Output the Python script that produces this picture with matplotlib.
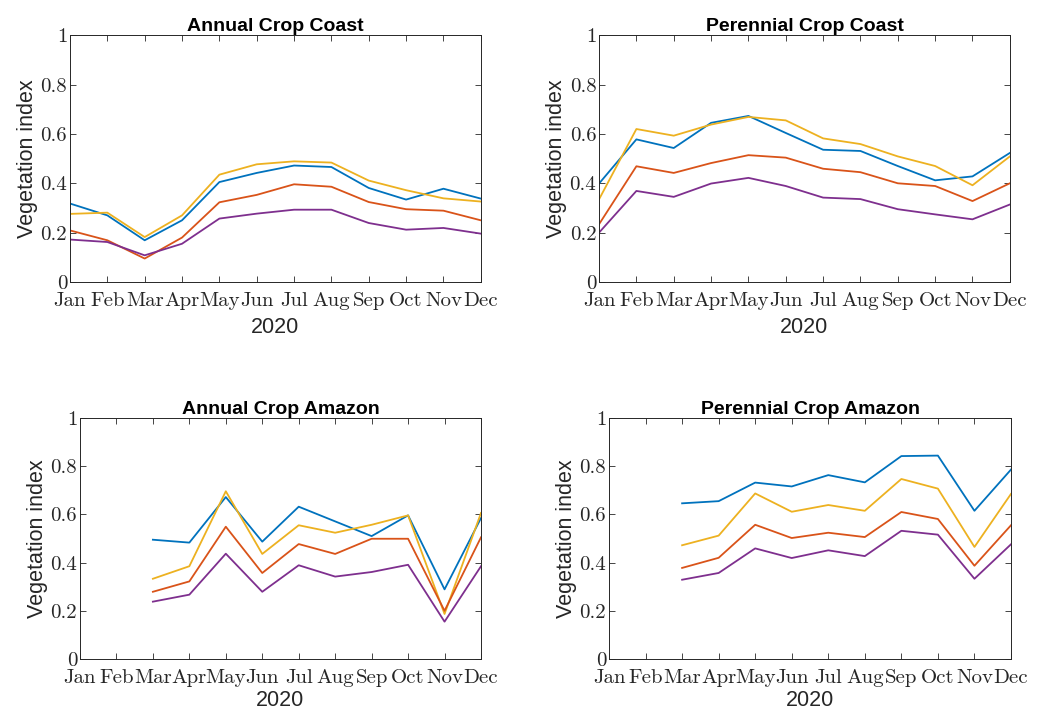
import numpy as np
import matplotlib
matplotlib.use('Agg')
import matplotlib.pyplot as plt

months = ['Jan', 'Feb', 'Mar', 'Apr', 'May', 'Jun', 'Jul', 'Aug', 'Sep', 'Oct', 'Nov', 'Dec']
nan = np.nan

# Annual Crop Coast
acc_blue = [0.318, 0.270, 0.169, 0.250, 0.405, 0.442, 0.472, 0.466, 0.381, 0.334, 0.378, 0.338]
acc_yellow = [0.276, 0.281, 0.182, 0.270, 0.435, 0.477, 0.489, 0.484, 0.411, 0.372, 0.339, 0.326]
acc_orange = [0.209, 0.169, 0.095, 0.180, 0.323, 0.353, 0.396, 0.386, 0.324, 0.295, 0.289, 0.250]
acc_purple = [0.172, 0.162, 0.108, 0.155, 0.257, 0.277, 0.293, 0.293, 0.239, 0.212, 0.219, 0.196]

# Perennial Crop Coast
pcc_blue = [0.399, 0.578, 0.543, 0.645, 0.673, 0.604, 0.536, 0.531, 0.470, 0.412, 0.428, 0.523]
pcc_yellow = [0.335, 0.620, 0.593, 0.638, 0.669, 0.655, 0.582, 0.559, 0.509, 0.470, 0.392, 0.509]
pcc_orange = [0.234, 0.469, 0.442, 0.482, 0.514, 0.504, 0.459, 0.445, 0.400, 0.389, 0.328, 0.400]
pcc_purple = [0.200, 0.369, 0.345, 0.399, 0.422, 0.389, 0.342, 0.336, 0.295, 0.274, 0.254, 0.314]

# Annual Crop Amazon (no data Jan, Feb)
aca_blue = [nan, nan, 0.495, 0.483, 0.672, 0.487, 0.632, 0.571, 0.510, 0.596, 0.289, 0.585]
aca_yellow = [nan, nan, 0.333, 0.385, 0.696, 0.436, 0.555, 0.524, 0.557, 0.596, 0.187, 0.606]
aca_orange = [nan, nan, 0.279, 0.322, 0.549, 0.357, 0.477, 0.436, 0.499, 0.499, 0.200, 0.505]
aca_purple = [nan, nan, 0.238, 0.267, 0.437, 0.279, 0.389, 0.342, 0.361, 0.391, 0.155, 0.385]

# Perennial Crop Amazon (no data Jan, Feb)
pca_blue = [nan, nan, 0.646, 0.655, 0.732, 0.716, 0.763, 0.733, 0.842, 0.844, 0.615, 0.786]
pca_yellow = [nan, nan, 0.472, 0.512, 0.687, 0.611, 0.639, 0.615, 0.747, 0.707, 0.465, 0.685]
pca_orange = [nan, nan, 0.378, 0.420, 0.557, 0.502, 0.524, 0.506, 0.610, 0.581, 0.387, 0.555]
pca_purple = [nan, nan, 0.329, 0.357, 0.459, 0.419, 0.451, 0.427, 0.532, 0.516, 0.333, 0.476]

colors = ['#0072BD', '#EDB120', '#D95319', '#7E2F8E']

panels = [
    ('Annual Crop Coast', [acc_blue, acc_yellow, acc_orange, acc_purple], [0.0673, 0.6034, 0.395, 0.347], 5),
    ('Perennial Crop Coast', [pcc_blue, pcc_yellow, pcc_orange, pcc_purple], [0.576, 0.6034, 0.395, 0.347], 5),
    ('Annual Crop Amazon', [aca_blue, aca_yellow, aca_orange, aca_purple], [0.0769, 0.0731, 0.3856, 0.339], 2),
    ('Perennial Crop Amazon', [pca_blue, pca_yellow, pca_orange, pca_purple], [0.5856, 0.0731, 0.3865, 0.339], 2),
]

fig = plt.figure(figsize=(10.4, 7.11), dpi=100)
x = np.arange(1, 13)
yt = [0, 0.2, 0.4, 0.6, 0.8, 1]
ytl = ['0', '0.2', '0.4', '0.6', '0.8', '1']

for title, series, pos, xpad in panels:
    ax = fig.add_axes(pos)
    for s, c in zip(series, colors):
        ax.plot(x, s, color=c, lw=1.3)
    ax.set_xlim(1, 12)
    ax.set_ylim(0, 1)
    ax.set_xticks(x)
    ax.set_xticklabels(months, family='cmr10', fontsize=15)
    ax.set_yticks(yt)
    ax.set_yticklabels(ytl, family='cmr10', fontsize=15)
    ax.tick_params(direction='in', top=True, right=True, length=4, width=0.6,
                   colors='#262626')
    ax.tick_params(axis='x', pad=7)
    ax.tick_params(axis='y', pad=2)
    for sp in ax.spines.values():
        sp.set_linewidth(0.7)
        sp.set_color('#262626')
    ax.set_title(title, fontsize=14, fontweight='bold', family='Liberation Sans', pad=3)
    ax.set_ylabel('Vegetation index', fontsize=15.5, family='Liberation Sans', color='#262626', labelpad=2)
    ax.set_xlabel('2020', fontsize=15.5, family='Liberation Sans', color='#262626', labelpad=xpad)

plt.savefig('out.png', dpi=100)
